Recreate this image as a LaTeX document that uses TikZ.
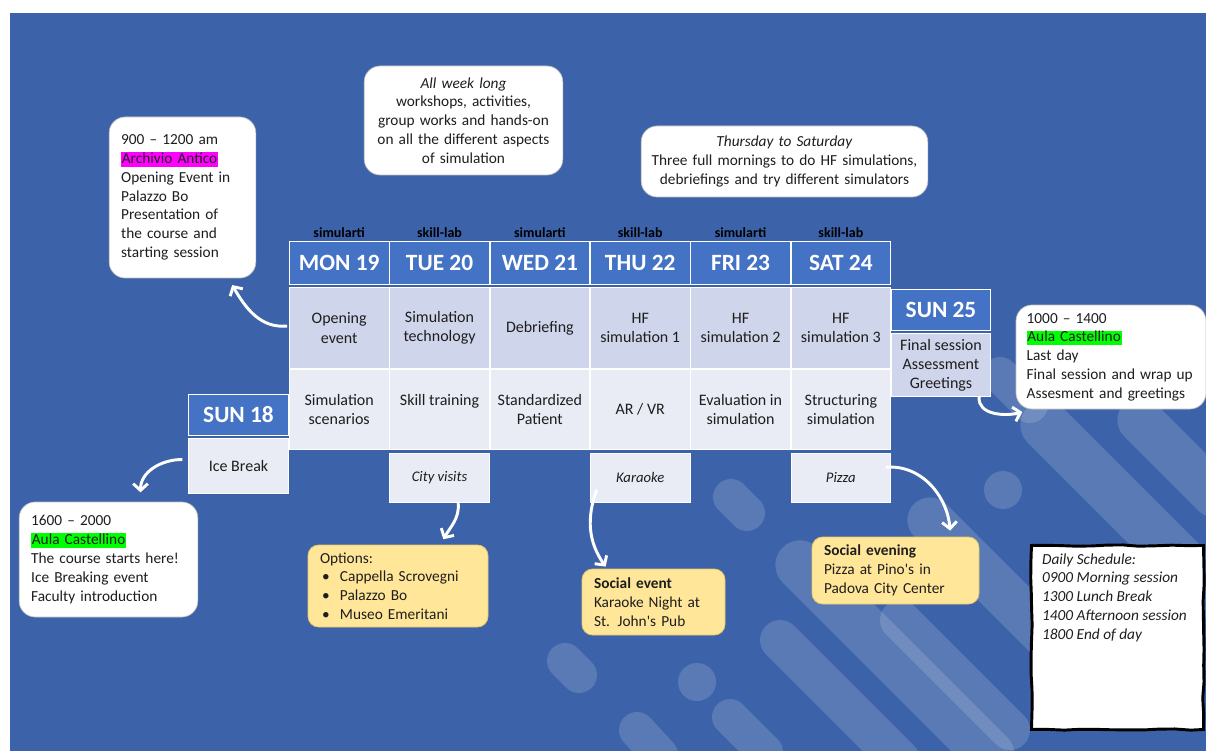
\documentclass[tikz,border=0pt]{standalone}
\usepackage{fontspec}
\setmainfont{Carlito}
\usetikzlibrary{arrows.meta,positioning,decorations.pathmorphing}

\definecolor{bgblue}{HTML}{3C63A9}
\definecolor{hdrblue}{HTML}{4472C4}
\definecolor{amcell}{HTML}{CFD5EA}
\definecolor{pmcell}{HTML}{E9EBF5}
\definecolor{notefill}{HTML}{FFE699}
\definecolor{notedraw}{HTML}{E6C769}
\definecolor{inktext}{HTML}{1E1E1E}
\definecolor{hlpink}{HTML}{FF00FF}
\definecolor{hlgreen}{HTML}{00FF00}

\newcommand{\hlmark}[2]{{\setlength{\fboxsep}{0.5pt}\colorbox{#1}{\vphantom{Ahg}#2}}}
\newcommand{\bulitem}{\makebox[15pt][l]{\hspace{1.5pt}\textbullet}}

\begin{document}
\begin{tikzpicture}[x=0.75pt, y=0.75pt,
  every node/.style={font=\fontsize{11.5}{14.1}\selectfont, text=inktext},
  hdr/.style={fill=hdrblue, draw=white, line width=0.6pt, minimum width=74.65pt, minimum height=32.4pt, text=white, font=\fontsize{17.5}{20}\selectfont\bfseries},
  cell/.style={draw=white, line width=0.6pt, minimum width=74.65pt, align=center, font=\fontsize{12}{14.4}\selectfont},
  amrow/.style={cell, fill=amcell, minimum height=61pt},
  pmrow/.style={cell, fill=pmcell, minimum height=60.2pt},
  evening/.style={cell, fill=pmcell, minimum height=37pt, font=\fontsize{11}{13}\selectfont\itshape},
  site/.style={font=\fontsize{10.5}{12}\selectfont\bfseries, text=black, inner sep=1pt},
  callout/.style={fill=white, draw=black!25, line width=0.5pt, rounded corners=12pt, align=left, inner xsep=9pt, inner ysep=4pt},
  note/.style={fill=notefill, draw=notedraw, line width=0.6pt, rounded corners=8pt, align=left, inner xsep=9pt, inner ysep=3pt},
  daily/.style={fill=white, draw=black, line width=2.2pt, inner xsep=8pt, inner ysep=6pt, decorate, decoration={random steps, segment length=12pt, amplitude=0.6pt}},
  flow/.style={white, line width=2.2pt, -{Straight Barb[length=5pt,width=11pt]}},
  streak/.style={white, opacity=0.15, line cap=round}
]
  \useasboundingbox (0,0) rectangle (1206,751);
  % page and backdrop
  \fill[white] (0,0) rectangle (1206,751);
  \fill[bgblue] (10,0) rectangle (1206,738);
  \begin{scope}
    \clip (10,0) rectangle (1206,738);
    \draw[streak, line width=27pt] (731,254) -- (747,238);
    \draw[streak, line width=27pt] (565,90) -- (579,76);
    \draw[streak, line width=27pt] (1000,376) -- (1030,346);
    \draw[streak, line width=37pt] (1045,326) -- (1215,156);
    \draw[streak, line width=34pt] (1140,331) -- (1215,256);
    \draw[streak, line width=34pt] (930,231) -- (1060,101);
    \draw[streak, line width=37pt] (800,186) -- (990,-4);
    \draw[streak, line width=30pt] (780,111) -- (900,-9);
    \draw[streak, line width=30pt] (900,131) -- (1010,21);
    \draw[streak, line width=27pt] (730,34) -- (765,-1);
    \draw[streak, line width=27pt] (637,21) -- (660,-4);
    \fill[white, opacity=0.15] (697,69) circle (14.25pt);
    \fill[white, opacity=0.15] (1003,261) circle (14.25pt);
  \end{scope}

  % the week
  \node[hdr] (mon) at (339.2,488) {MON 19};
  \node[hdr, right=0pt of mon] (tue) {TUE 20};
  \node[hdr, right=0pt of tue] (wed) {WED 21};
  \node[hdr, right=0pt of wed] (thu) {THU 22};
  \node[hdr, right=0pt of thu] (fri) {FRI 23};
  \node[hdr, right=0pt of fri] (sat) {SAT 24};
  \node[site, above=1pt of mon] (monlab) {simularti};
  \node[site, above=1pt of tue] (tuelab) {skill-lab};
  \node[site, above=1pt of wed] (wedlab) {simularti};
  \node[site, above=1pt of thu] (thulab) {skill-lab};
  \node[site, above=1pt of fri] (frilab) {simularti};
  \node[site, above=1pt of sat] (satlab) {skill-lab};

  \node[amrow, below=1.5pt of mon] (mon1) {Opening\\event};
  \node[amrow, below=1.5pt of tue] (tue1) {Simulation\\technology};
  \node[amrow, below=1.5pt of wed] (wed1) {Debriefing};
  \node[amrow, below=1.5pt of thu] (thu1) {HF\\simulation 1};
  \node[amrow, below=1.5pt of fri] (fri1) {HF\\simulation 2};
  \node[amrow, below=1.5pt of sat] (sat1) {HF\\simulation 3};

  \node[pmrow, below=0pt of mon1] (mon2) {Simulation\\scenarios};
  \node[pmrow, below=0pt of tue1] (tue2) {Skill training\\\mbox{}};
  \node[pmrow, below=0pt of wed1] (wed2) {Standardized\\Patient};
  \node[pmrow, below=0pt of thu1] (thu2) {AR / VR};
  \node[pmrow, below=0pt of fri1] (fri2) {Evaluation in\\simulation};
  \node[pmrow, below=0pt of sat1] (sat2) {Structuring\\simulation};

  \node[evening, below=2pt of tue2] (city) {City visits};
  \node[evening, below=2pt of thu2] (kara) {Karaoke};
  \node[evening, below=2pt of sat2] (pizza) {Pizza};

  % first and last day
  \node[hdr, minimum height=31pt] (sun18) at (238.5,336) {SUN 18};
  \node[pmrow, minimum height=41.5pt, below=1.5pt of sun18] (ice) {Ice Break};
  \node[hdr, minimum height=31pt] (sun25) at (941,441) {SUN 25};
  \node[amrow, minimum height=47.5pt, below=1.5pt of sun25] (fin) {Final session\\Assessment\\Greetings};

  % callouts
  \node[callout, text width=92pt, minimum height=120.75pt] (openbox) at (182.5,553.5)
    {900 -- 1200 am\\\hlmark{hlpink}{Archivio Antico}\\Opening Event in\\Palazzo Bo\\Presentation of\\the course and\\starting session};
  \node[callout, align=center, inner xsep=6pt, text width=137pt, minimum height=81.75pt] (weekbox) at (463.5,630.5)
    {\textit{All week long}\\workshops, activities,\\group works and hands-on\\on all the different aspects\\of simulation};
  \node[callout, align=center, inner xsep=7.5pt, text width=200pt, minimum height=53.25pt] (thubox) at (784.5,589.5)
    {\textit{Thursday to Saturday}\\Three full mornings to do HF simulations,\\debriefings and try different simulators};
  \node[callout, text width=116pt, minimum height=86.25pt] (icebox) at (108.5,191.5)
    {1600 -- 2000\\\hlmark{hlgreen}{Aula Castellino}\\The course starts here!\\Ice Breaking event\\Faculty introduction};
  \node[callout, inner xsep=8pt, text width=126.5pt, minimum height=78pt] (lastbox) at (1111,394)
    {1000 -- 1400\\\hlmark{hlgreen}{Aula Castellino}\\Last day\\Final session and wrap up\\Assesment and greetings};

  % evening notes
  \node[note, text width=117pt, minimum height=61.5pt] (cityopt) at (398,165)
    {Options:\\\bulitem Cappella Scrovegni\\\bulitem Palazzo Bo\\\bulitem Museo Emeritani};
  \node[note, text width=89.25pt, minimum height=49.5pt] (karabox) at (653.5,149)
    {\textbf{Social event}\\Karaoke Night at\\St. John\textquotesingle s Pub};
  \node[note, text width=107.25pt, minimum height=50.25pt] (pizzabox) at (895.5,180.5)
    {\textbf{Social evening}\\Pizza at Pino\textquotesingle s in\\Padova City Center};

  \node[daily, anchor=north west] (dailybox) at (1030,207)
    {\parbox[t][126pt][t]{113pt}{\itshape Daily Schedule:\\0900 Morning session\\1300 Lunch Break\\1400 Afternoon session\\1800 End of day}};

  % arrows
  \draw[flow] ([xshift=-1.5pt,yshift=1.5pt]mon1.west) to[out=185, in=-60] ([xshift=-18pt,yshift=-5pt]openbox.south east);
  \draw[flow] ([xshift=-4.5pt,yshift=5pt]ice.west) to[out=180, in=90] ([xshift=24pt,yshift=7pt]icebox.north);
  \draw[flow] ([xshift=14pt]city.south) to[out=-85, in=60] ([xshift=34pt,yshift=4pt]cityopt.north);
  \draw[flow] ([xshift=5pt,yshift=10pt]kara.south west) to[out=-110, in=125] ([xshift=18pt,yshift=1.5pt]karabox.north west);
  \draw[flow] ([xshift=-4pt,yshift=8pt]pizza.east) to[out=5, in=95] ([xshift=41pt,yshift=4.5pt]pizzabox.north);
  \draw[flow] ([xshift=-9pt]fin.south east) to[out=-95, in=195] ([xshift=5pt,yshift=-2pt]lastbox.south west);
\end{tikzpicture}
\end{document}
